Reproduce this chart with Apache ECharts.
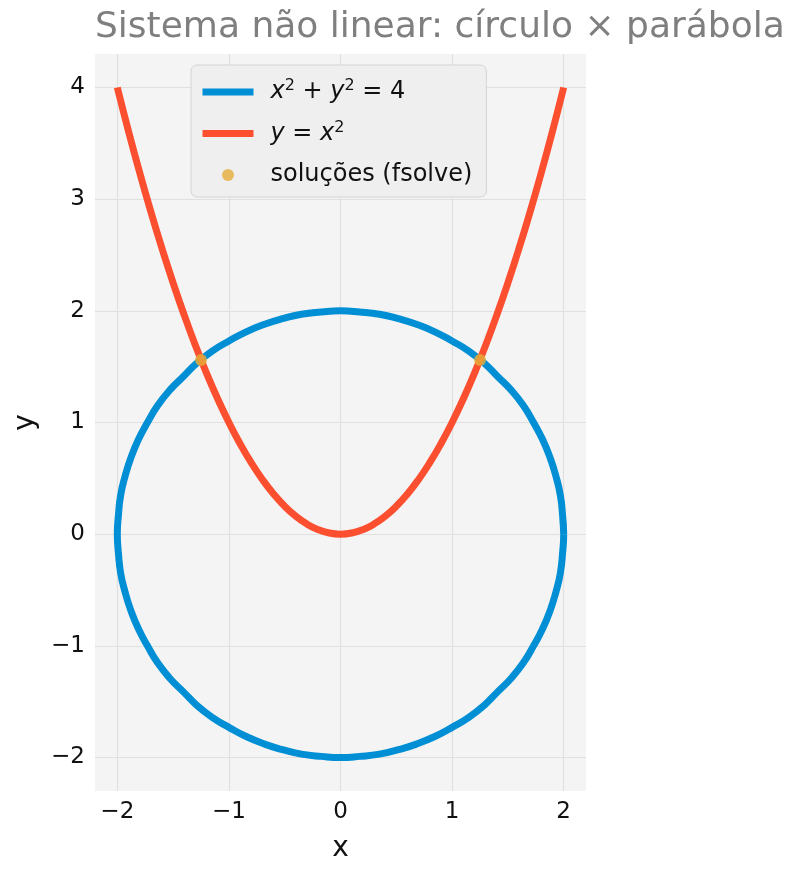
<!DOCTYPE html>
<html><head><meta charset="utf-8">
<script src="https://cdn.jsdelivr.net/npm/echarts@6/dist/echarts.min.js"></script>
<style>html,body{margin:0;padding:0;background:#fff}#c{width:800px;height:875px}</style>
</head><body><div id="c"></div>
<script>
const titleText = 'Sistema não linear: círculo × parábola';
const seriesNames = ['x² + y² = 4', 'y = x²', 'soluções (fsolve)'];
// circle x^2 + y^2 = 4 (counter-clockwise from (2, 0))
const circleX = [2.00, 1.99, 1.97, 1.93, 1.88, 1.81, 1.73, 1.64, 1.53, 1.41, 1.29, 1.15, 1.00, 0.85, 0.68, 0.52, 0.35, 0.17, 0.00,
  -0.17, -0.35, -0.52, -0.68, -0.85, -1.00, -1.15, -1.29, -1.41, -1.53, -1.64, -1.73, -1.81, -1.88, -1.93, -1.97, -1.99, -2.00,
  -1.99, -1.97, -1.93, -1.88, -1.81, -1.73, -1.64, -1.53, -1.41, -1.29, -1.15, -1.00, -0.85, -0.68, -0.52, -0.35, -0.17, 0.00,
  0.17, 0.35, 0.52, 0.68, 0.85, 1.00, 1.15, 1.29, 1.41, 1.53, 1.64, 1.73, 1.81, 1.88, 1.93, 1.97, 1.99, 2.00, 1.99];
const circleY = [0.00, 0.17, 0.35, 0.52, 0.68, 0.85, 1.00, 1.15, 1.29, 1.41, 1.53, 1.64, 1.73, 1.81, 1.88, 1.93, 1.97, 1.99, 2.00,
  1.99, 1.97, 1.93, 1.88, 1.81, 1.73, 1.64, 1.53, 1.41, 1.29, 1.15, 1.00, 0.85, 0.68, 0.52, 0.35, 0.17, 0.00,
  -0.17, -0.35, -0.52, -0.68, -0.85, -1.00, -1.15, -1.29, -1.41, -1.53, -1.64, -1.73, -1.81, -1.88, -1.93, -1.97, -1.99, -2.00,
  -1.99, -1.97, -1.93, -1.88, -1.81, -1.73, -1.64, -1.53, -1.41, -1.29, -1.15, -1.00, -0.85, -0.68, -0.52, -0.35, -0.17, 0.00, 0.17];
// parabola y = x^2
const parabolaX = [-2.0, -1.9, -1.8, -1.7, -1.6, -1.5, -1.4, -1.3, -1.2, -1.1, -1.0, -0.9, -0.8, -0.7, -0.6, -0.5, -0.4, -0.3, -0.2, -0.1, 0.0,
  0.1, 0.2, 0.3, 0.4, 0.5, 0.6, 0.7, 0.8, 0.9, 1.0, 1.1, 1.2, 1.3, 1.4, 1.5, 1.6, 1.7, 1.8, 1.9, 2.0];
const parabolaY = [4.00, 3.61, 3.24, 2.89, 2.56, 2.25, 1.96, 1.69, 1.44, 1.21, 1.00, 0.81, 0.64, 0.49, 0.36, 0.25, 0.16, 0.09, 0.04, 0.01, 0.00,
  0.01, 0.04, 0.09, 0.16, 0.25, 0.36, 0.49, 0.64, 0.81, 1.00, 1.21, 1.44, 1.69, 1.96, 2.25, 2.56, 2.89, 3.24, 3.61, 4.00];
// solutions
const solutionX = [-1.25, 1.25];
const solutionY = [1.56, 1.56];
const xTicks = [-2, -1, 0, 1, 2];
const yTicks = [-2, -1, 0, 1, 2, 3, 4];

const FONT = 'DejaVu Sans';
const fmt = v => (v < 0 ? '\u2212' + Math.abs(v) : String(v));
const zip = (a, b) => a.map((v, i) => [v, b[i]]);

const chart = echarts.init(document.getElementById('c'), null, {renderer: 'canvas'});
const option = {
  backgroundColor: '#ffffff',
  animation: false,
  textStyle: {fontFamily: FONT},
  title: {
    text: titleText, left: 95, top: 10, padding: 0,
    textStyle: {fontFamily: FONT, fontSize: 36, fontWeight: 'normal', color: '#7f7f7f'}
  },
  grid: {left: 95, right: 214, top: 54, bottom: 84, show: true, backgroundColor: '#f4f4f4', borderWidth: 0},
  xAxis: {
    type: 'value', min: -2.2, max: 2.2,
    name: 'x', nameLocation: 'middle', nameGap: 44,
    nameTextStyle: {fontFamily: FONT, fontSize: 28, color: '#111'},
    axisLine: {show: false},
    axisTick: {show: false, customValues: xTicks},
    axisLabel: {customValues: xTicks, formatter: fmt, fontSize: 23, color: '#111', margin: 10, fontFamily: FONT},
    splitLine: {show: true, lineStyle: {color: '#e0e0e0', width: 1.2}}
  },
  yAxis: {
    type: 'value', min: -2.3, max: 4.3,
    name: 'y', nameLocation: 'middle', nameGap: 50,
    nameTextStyle: {fontFamily: FONT, fontSize: 28, color: '#111'},
    axisLine: {show: false},
    axisTick: {show: false, customValues: yTicks},
    axisLabel: {customValues: yTicks, formatter: fmt, fontSize: 23, color: '#111', margin: 10, fontFamily: FONT},
    splitLine: {show: true, lineStyle: {color: '#e0e0e0', width: 1.2}}
  },
  legend: {
    orient: 'vertical', left: 191, top: 65, padding: [13, 14, 8, 8], itemGap: 13.5,
    itemWidth: 51, itemHeight: 12,
    backgroundColor: '#efefef', borderColor: '#d4d4d4', borderWidth: 1, borderRadius: 6,
    lineStyle: {width: 7},
    textStyle: {
      fontFamily: FONT, fontSize: 24, color: '#111', lineHeight: 28, padding: [0, 0, 0, 12],
      rich: {
        i: {fontFamily: FONT, fontStyle: 'italic', fontSize: 24, lineHeight: 28, color: '#111'},
        n: {fontFamily: FONT, fontSize: 24, lineHeight: 28, color: '#111'},
        s: {fontFamily: FONT, fontSize: 16, lineHeight: 14, verticalAlign: 'top', color: '#111'}
      }
    },
    formatter: function (name) {
      if (name === seriesNames[0]) return '{i|x}{s|2}{n| + }{i|y}{s|2}{n| = 4}';
      if (name === seriesNames[1]) return '{i|y}{n| = }{i|x}{s|2}';
      return name;
    },
    data: [
      {name: seriesNames[0], itemStyle: {opacity: 0}},
      {name: seriesNames[1], itemStyle: {opacity: 0}},
      {name: seriesNames[2]}
    ]
  },
  series: [
    {
      name: seriesNames[0], type: 'line', data: zip(circleX, circleY),
      smooth: true, showSymbol: false, symbol: 'circle',
      lineStyle: {color: '#008fd5', width: 7}, itemStyle: {color: '#008fd5'}, z: 2
    },
    {
      name: seriesNames[1], type: 'line', data: zip(parabolaX, parabolaY),
      smooth: true, showSymbol: false, symbol: 'circle',
      lineStyle: {color: '#fc4f30', width: 7}, itemStyle: {color: '#fc4f30'}, z: 3
    },
    {
      name: seriesNames[2], type: 'scatter', data: zip(solutionX, solutionY),
      symbol: 'circle', symbolSize: 12, itemStyle: {color: '#e5ae38'}, z: 5
    }
  ]
};
chart.setOption(option);
</script>
</body></html>
